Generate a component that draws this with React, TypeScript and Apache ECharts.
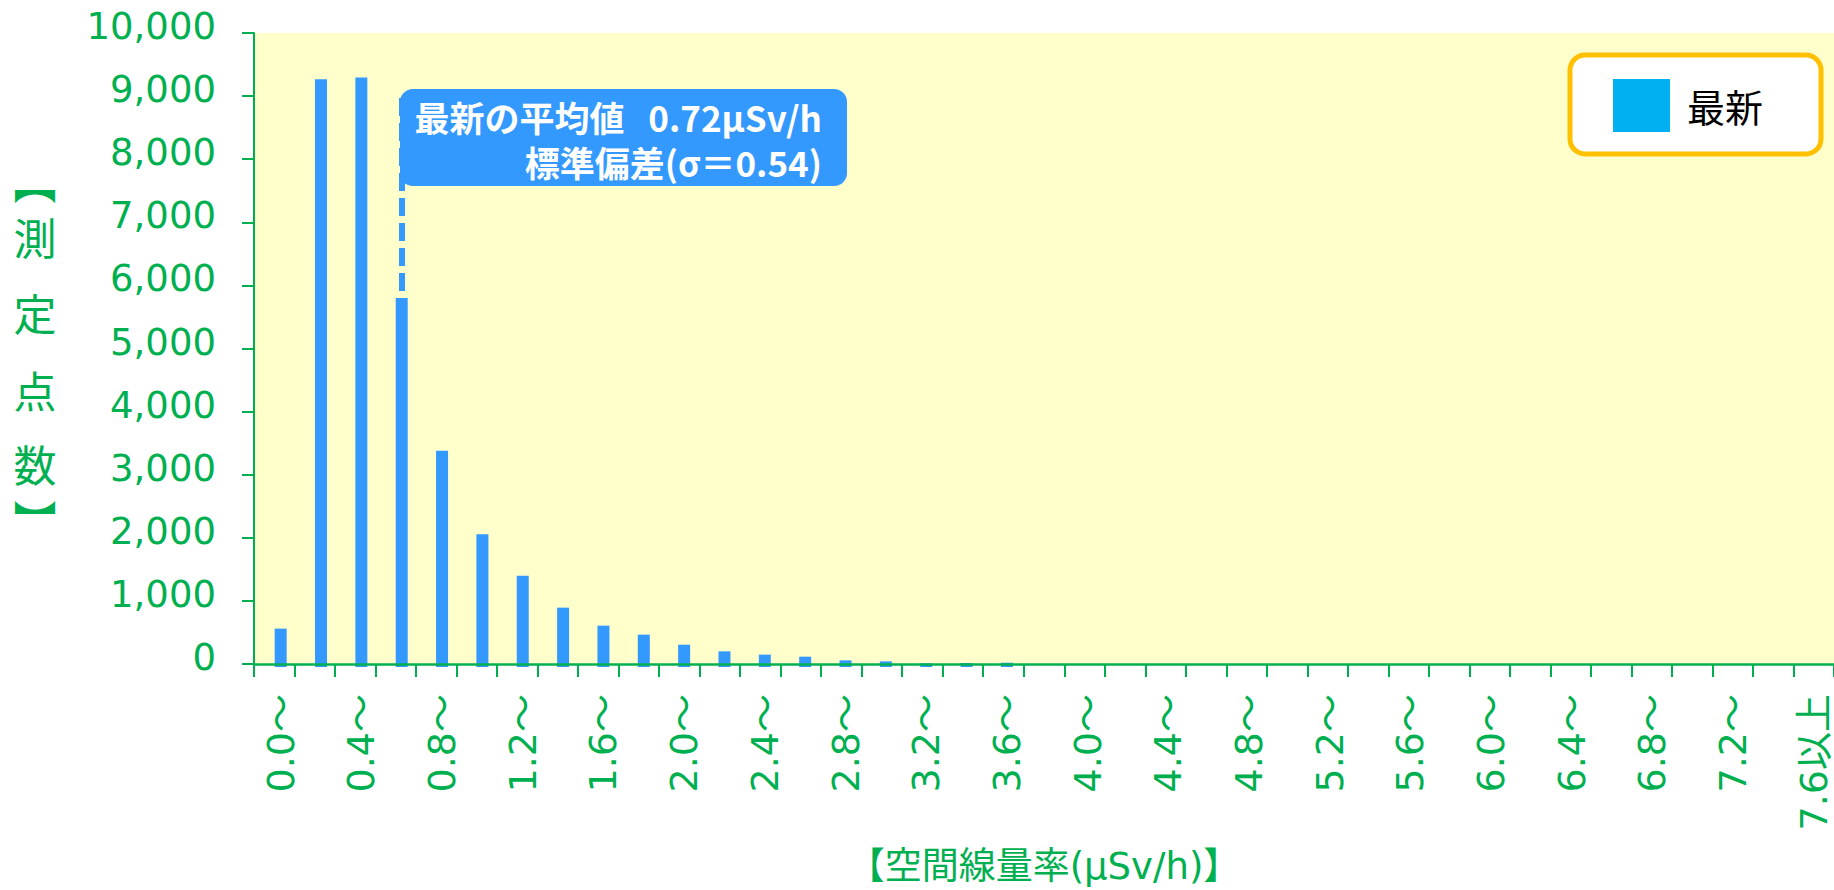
import React, { useEffect, useRef } from 'react';
import * as echarts from 'echarts';

// ---- data ----
const categories = [
  '0.0～', '0.2～', '0.4～', '0.6～', '0.8～', '1.0～', '1.2～', '1.4～', '1.6～', '1.8～',
  '2.0～', '2.2～', '2.4～', '2.6～', '2.8～', '3.0～', '3.2～', '3.4～', '3.6～', '3.8～',
  '4.0～', '4.2～', '4.4～', '4.6～', '4.8～', '5.0～', '5.2～', '5.4～', '5.6～', '5.8～',
  '6.0～', '6.2～', '6.4～', '6.6～', '6.8～', '7.0～', '7.2～', '7.4～', '7.6以上',
];
const latestCounts = [
  605, 9270, 9300, 5820, 3410, 2095, 1440, 936, 652, 510,
  352, 247, 195, 163, 105, 89, 58, 63, 68, 0,
  0, 0, 0, 0, 0, 0, 0, 0, 0, 0,
  0, 0, 0, 0, 0, 0, 0, 0, 0,
];
const seriesName = '最新';
const yMin = 0;
const yMax = 10000;
const yInterval = 1000;
const xAxisName = '【空間線量率(μSv/h)】';
const yAxisNameChars = ['︻', '測', '定', '点', '数', '︼'];
const meanCategory = '0.6～';
const meanLineFrom = 8975;
const meanLineTo = 5820;
const meanLabel = '最新の平均値   0.72μSv/h';
const sdLabel = '標準偏差(σ＝0.54)';

// ---- styles ----
const GREEN = '#00B050';
const BAR_BLUE = '#3399FF';
const LEGEND_BLUE = '#00B0F0';
const LATIN = "'DejaVu Sans', 'Noto Sans CJK JP', sans-serif";
const CJK = "'Noto Sans CJK JP', sans-serif";
const yNameCenters = [180, 236, 312, 389, 463, 519];

export default function App() {
  const ref = useRef<HTMLDivElement>(null);

  useEffect(() => {
    if (!ref.current) return;
    const chart = echarts.init(ref.current, null, { renderer: 'svg' });
    chart.setOption({
      animation: false,
      grid: [
        {
          // frame: background, axis lines, ticks
          left: 254,
          top: 33,
          right: 0,
          bottom: 223,
          show: true,
          backgroundColor: '#FFFFCC',
          borderWidth: 0,
        },
        {
          // bars and category labels (drawn slightly right of the category centre, as in the reference)
          left: 260.5,
          top: 33,
          right: -6.5,
          bottom: 223,
          show: false,
        },
      ],
      legend: {
        data: [{ name: seriesName, itemStyle: { color: LEGEND_BLUE } }],
        left: 1570,
        top: 55,
        orient: 'horizontal',
        icon: 'rect',
        itemWidth: 57,
        itemHeight: 53,
        padding: [24, 58, 22, 43],
        backgroundColor: '#FFFFFF',
        borderColor: '#FFC000',
        borderWidth: 5,
        borderRadius: 15,
        selectedMode: false,
        itemStyle: { color: LEGEND_BLUE },
        textStyle: { color: '#000000', fontSize: 38, fontFamily: CJK, padding: [0, 0, 0, 12] },
      },
      xAxis: [
        {
          type: 'category',
          gridIndex: 0,
          z: 10,
          data: categories,
          boundaryGap: true,
          axisLine: { show: true, lineStyle: { color: GREEN, width: 2.5 } },
          axisTick: { show: true, interval: 0, length: 13, lineStyle: { color: GREEN, width: 2 } },
          axisLabel: { show: false },
          splitLine: { show: false },
          name: xAxisName,
          nameLocation: 'middle',
          nameGap: 184,
          nameTextStyle: { color: GREEN, fontSize: 37, fontFamily: LATIN },
        },
        {
          type: 'category',
          gridIndex: 1,
          data: categories,
          boundaryGap: true,
          axisLine: { show: false },
          axisTick: { show: false },
          axisLabel: {
            interval: 1,
            rotate: 90,
            margin: 27,
            color: GREEN,
            fontSize: 38,
            fontFamily: LATIN,
          },
          splitLine: { show: false },
        },
      ],
      yAxis: [
        {
          type: 'value',
          gridIndex: 0,
          z: 10,
          min: yMin,
          max: yMax,
          interval: yInterval,
          axisLine: { show: true, lineStyle: { color: GREEN, width: 2 } },
          axisTick: { show: true, length: 12, lineStyle: { color: GREEN, width: 2 } },
          axisLabel: {
            margin: 38,
            color: GREEN,
            fontSize: 37,
            fontFamily: LATIN,
            verticalAlign: 'bottom',
            lineHeight: 13,
            formatter: (v: number) => v.toLocaleString('en-US'),
          },
          splitLine: { show: false },
        },
        {
          type: 'value',
          gridIndex: 1,
          min: yMin,
          max: yMax,
          interval: yInterval,
          show: false,
          splitLine: { show: false },
        },
      ],
      series: [
        {
          type: 'bar',
          name: seriesName,
          xAxisIndex: 1,
          yAxisIndex: 1,
          data: latestCounts,
          barWidth: 12,
          itemStyle: { color: BAR_BLUE },
          markLine: {
            silent: true,
            symbol: ['none', 'none'],
            label: { show: false },
            lineStyle: { color: BAR_BLUE, width: 6, type: [18, 7] },
            data: [[{ coord: [meanCategory, meanLineFrom] }, { coord: [meanCategory, meanLineTo] }]],
          },
        },
      ],
      graphic: [
        {
          type: 'rect',
          z: 100,
          shape: { x: 400, y: 89, width: 447, height: 97, r: 13 },
          style: { fill: BAR_BLUE },
        },
        {
          type: 'text',
          z: 101,
          x: 822,
          y: 116,
          style: {
            text: meanLabel,
            fill: '#FFFFFF',
            fontSize: 35,
            fontWeight: 'bold',
            fontFamily: CJK,
            align: 'right',
            verticalAlign: 'middle',
            textAlign: 'right',
            textVerticalAlign: 'middle',
          },
        },
        {
          type: 'text',
          z: 101,
          x: 822,
          y: 161,
          style: {
            text: sdLabel,
            fill: '#FFFFFF',
            fontSize: 35,
            fontWeight: 'bold',
            fontFamily: CJK,
            align: 'right',
            verticalAlign: 'middle',
            textAlign: 'right',
            textVerticalAlign: 'middle',
          },
        },
        ...yAxisNameChars.map((ch, i) => ({
          type: 'text',
          x: 35,
          y: yNameCenters[i],
          style: {
            text: ch,
            fill: GREEN,
            fontSize: 43,
            fontFamily: CJK,
            align: 'center',
            verticalAlign: 'middle',
            textAlign: 'center',
            textVerticalAlign: 'middle',
          },
        })),
      ],
    });
    return () => chart.dispose();
  }, []);

  return (
    <div
      ref={ref}
      style={{ position: 'absolute', left: 0, top: 0, width: 1834, height: 890, overflow: 'hidden' }}
    />
  );
}
